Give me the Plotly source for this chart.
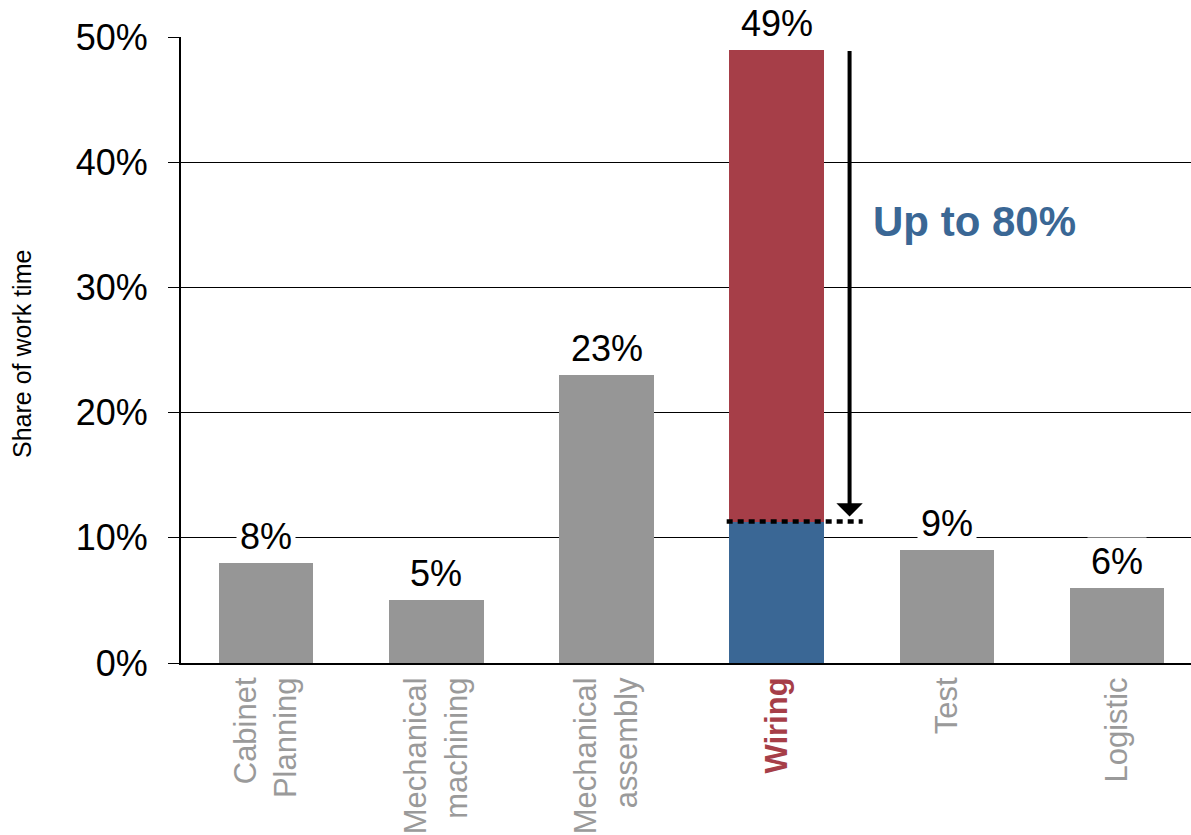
import plotly.graph_objects as go

categories = ["Cabinet<br>Planning", "Mechanical<br>machining", "Mechanical<br>assembly",
              "Wiring", "Test", "Logistic"]
shares = [0.08, 0.05, 0.23, 0.49, 0.09, 0.06]
label_texts = ["8%", "5%", "23%", "49%", "9%", "6%"]
wiring_index = 3
wiring_remaining = 0.113
y_ticks = [0, 0.1, 0.2, 0.3, 0.4, 0.5]
y_tick_text = ["0%", "10%", "20%", "30%", "40%", "50%"]
callout_text = "Up to 80%"

GRAY = "#969696"
RED = "#a63e48"
BLUE = "#3a6795"
FONT = "Arial, Liberation Sans, sans-serif"

xs = list(range(len(categories)))
gray_vals = [v if i != wiring_index else None for i, v in enumerate(shares)]
blue_vals = [wiring_remaining if i == wiring_index else None for i in xs]
red_vals = [shares[i] - wiring_remaining if i == wiring_index else None for i in xs]

fig = go.Figure()
fig.add_bar(x=xs, y=gray_vals, marker=dict(color=GRAY, line=dict(width=0)), width=0.555)
fig.add_bar(x=xs, y=blue_vals, marker=dict(color=BLUE, line=dict(width=0)), width=0.555)
fig.add_bar(x=xs, y=red_vals, marker=dict(color=RED, line=dict(width=0)), width=0.555)

tick_text = []
for i, c in enumerate(categories):
    if i == wiring_index:
        tick_text.append(f"<b><span style='color:{RED}'>{c}</span></b>")
    else:
        tick_text.append(c)

annotations = []
for i, (v, t) in enumerate(zip(shares, label_texts)):
    annotations.append(dict(x=i, y=v, xref="x", yref="y", text=t, showarrow=False,
                            yanchor="bottom", yshift=2, bgcolor="white", borderpad=3,
                            font=dict(family=FONT, size=36, color="black")))

# arrow indicating reduction
annotations.append(dict(x=3.428, y=wiring_remaining + 0.004, ax=3.428, ay=shares[wiring_index],
                        xref="x", yref="y", axref="x", ayref="y", text="", showarrow=True,
                        arrowhead=1, arrowsize=1.1, arrowwidth=4, arrowcolor="black"))
annotations.append(dict(x=4.16, y=0.353, xref="x", yref="y", text=f"<b>{callout_text}</b>",
                        showarrow=False, font=dict(family=FONT, size=42, color=BLUE)))
annotations.append(dict(x=-(181 - 22) / 1010, y=0.4936, xref="paper", yref="paper",
                        xanchor="center", yanchor="middle",
                        text="Share of work time", textangle=-90, showarrow=False,
                        font=dict(family=FONT, size=25, color="black")))

fig.add_shape(type="line", xref="x", yref="y", x0=2.706, x1=3.505,
              y0=wiring_remaining, y1=wiring_remaining,
              line=dict(color="black", width=4.5, dash="6px,5px"))

fig.update_layout(
    width=1191, height=835,
    margin=dict(l=181, r=0, t=37, b=172),
    paper_bgcolor="white", plot_bgcolor="white",
    barmode="stack", showlegend=False,
    font=dict(family=FONT, color="black"),
    annotations=annotations,
    xaxis=dict(range=[-0.5, 5.434], tickvals=xs, ticktext=tick_text, tickangle=-90,
               tickfont=dict(family=FONT, size=31, color="#9a9a9a"),
               showline=True, linecolor="black", linewidth=2, ticks="", showgrid=False,
               zeroline=False),
    yaxis=dict(range=[0, 0.5], tickvals=y_ticks, ticktext=y_tick_text,
               tickfont=dict(family=FONT, size=36, color="black"),
               ticks="outside", ticklen=11, tickwidth=1, tickcolor="black",
               ticklabelstandoff=13,
               showline=True, linecolor="black", linewidth=2,
               showgrid=True, gridcolor="black", gridwidth=1, zeroline=False),
)

fig.write_html("out.html")
